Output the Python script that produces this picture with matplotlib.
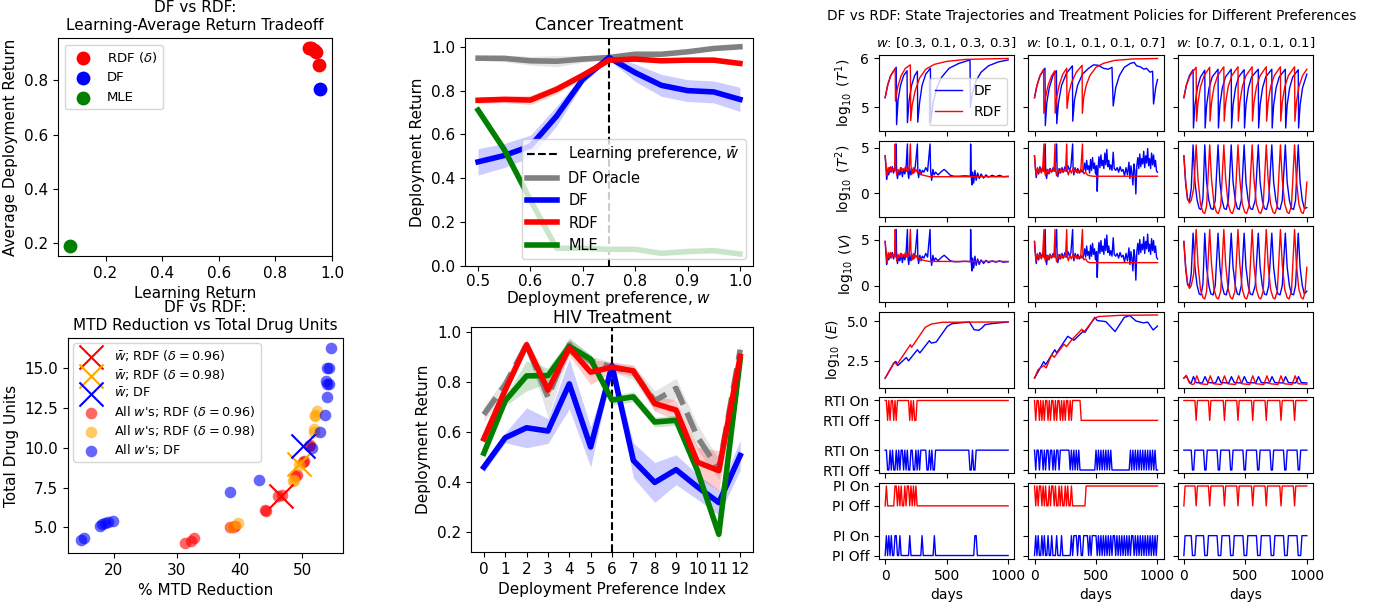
import matplotlib.pyplot as plt
import numpy as np

# ---------------- left column: scatter summaries ----------------
lr_rdf = [0.917, 0.925, 0.935, 0.943, 0.953]
avg_rdf = [0.918, 0.920, 0.912, 0.906, 0.857]
lr_df = [0.956]
avg_df = [0.769]
lr_mle = [0.076]
avg_mle = [0.188]

mtd_df = [14.7, 15.2, 17.8, 18.2, 18.6, 19.0, 19.8, 38.5, 43.1, 51.5, 52.8, 53.7,
          54.0, 53.9, 54.2, 53.8, 54.0, 54.2, 54.5]
units_df = [4.2, 4.3, 5.1, 5.2, 5.3, 5.35, 5.4, 7.2, 8.0, 10.0, 11.0, 12.1,
            13.2, 14.0, 14.05, 14.2, 15.0, 15.05, 16.3]
mtd_rdf96 = [31.3, 32.3, 32.7, 38.5, 39.0, 39.3, 44.0, 44.2, 46.2, 46.8, 48.9, 49.2,
             50.1, 50.3, 51.2, 51.0]
units_rdf96 = [4.0, 4.15, 4.3, 5.0, 5.05, 5.1, 6.1, 6.05, 7.0, 7.05, 8.2, 8.3,
               9.1, 9.2, 10.2, 10.1]
mtd_rdf98 = [38.8, 39.7, 48.5, 48.7, 49.5, 51.8, 51.9, 52.1, 52.3, 52.1]
units_rdf98 = [5.0, 5.3, 7.9, 8.0, 8.9, 11.0, 11.2, 12.1, 12.3, 12.0]
wbar_mtd = {'rdf96': 46.6, 'rdf98': 49.5, 'df': 50.2}
wbar_units = {'rdf96': 7.0, 'rdf98': 9.0, 'df': 10.1}

# ---------------- middle column: return curves ----------------
w_pref = [0.5, 0.55, 0.6, 0.65, 0.7, 0.75, 0.8, 0.85, 0.9, 0.95, 1.0]
ca_oracle = [0.948, 0.947, 0.936, 0.934, 0.944, 0.951, 0.966, 0.966, 0.977, 0.992, 1.0]
ca_oracle_sd = [0.01, 0.015, 0.02, 0.025, 0.015, 0.01, 0.01, 0.01, 0.008, 0.008, 0.005]
ca_df = [0.475, 0.504, 0.547, 0.684, 0.852, 0.951, 0.882, 0.824, 0.800, 0.794, 0.760]
ca_df_sd = [0.06, 0.055, 0.05, 0.045, 0.02, 0.01, 0.04, 0.05, 0.05, 0.05, 0.055]
ca_rdf = [0.756, 0.760, 0.757, 0.806, 0.870, 0.939, 0.944, 0.936, 0.939, 0.939, 0.924]
ca_rdf_sd = [0.015, 0.015, 0.02, 0.02, 0.015, 0.01, 0.01, 0.008, 0.008, 0.01, 0.01]
ca_mle = [0.711, 0.531, 0.30, 0.081, 0.081, 0.076, 0.076, 0.058, 0.066, 0.070, 0.055]
ca_mle_sd = [0.01, 0.02, 0.02, 0.01, 0.01, 0.01, 0.01, 0.01, 0.01, 0.01, 0.01]

hiv_idx = list(range(13))
hiv_oracle = [0.67, 0.79, 0.95, 0.74, 0.95, 0.885, 0.86, 0.84, 0.725, 0.775, 0.58, 0.45, 0.93]
hiv_oracle_sd = [0.03, 0.03, 0.02, 0.08, 0.03, 0.02, 0.02, 0.03, 0.04, 0.04, 0.05, 0.04, 0.02]
hiv_df = [0.459, 0.577, 0.617, 0.604, 0.793, 0.54, 0.866, 0.486, 0.398, 0.449, 0.38, 0.317, 0.506]
hiv_df_sd = [0.02, 0.02, 0.08, 0.05, 0.1, 0.08, 0.015, 0.07, 0.08, 0.06, 0.05, 0.05, 0.06]
hiv_rdf = [0.573, 0.768, 0.95, 0.768, 0.937, 0.84, 0.86, 0.845, 0.714, 0.688, 0.479, 0.445, 0.903]
hiv_rdf_sd = [0.02, 0.02, 0.02, 0.03, 0.03, 0.05, 0.02, 0.02, 0.03, 0.04, 0.06, 0.08, 0.02]
hiv_mle = [0.515, 0.725, 0.825, 0.826, 0.943, 0.892, 0.728, 0.741, 0.64, 0.647, 0.445, 0.19, 0.89]
hiv_mle_sd = [0.02, 0.02, 0.06, 0.03, 0.03, 0.02, 0.02, 0.02, 0.02, 0.02, 0.03, 0.03, 0.06]

# ---------------- right block: trajectories (day, value) ----------------
col_titles = ['[0.3, 0.1, 0.3, 0.3]', '[0.1, 0.1, 0.1, 0.7]', '[0.7, 0.1, 0.1, 0.1]']

c1_t1_df = [(0,5.2),(20,5.45),(45,5.65),(90,5.82),(93,4.65),(105,5.15),(125,5.45),(150,5.65),(178,5.75),
            (181,4.69),(195,5.15),(215,5.45),(240,5.65),(262,5.74),(265,4.7),(280,5.1),(300,5.45),(330,5.68),
            (368,5.8),(371,4.7),(390,5.1),(420,5.4),(460,5.62),(520,5.8),(600,5.9),(690,5.97),(693,5.0),
            (710,5.3),(740,5.55),(780,5.72),(840,5.85),(920,5.93),(1000,5.97)]
c1_t1_rdf = [(0,5.2),(20,5.45),(45,5.65),(82,5.8),(84,5.13),(100,5.4),(130,5.65),(165,5.8),(205,5.87),
             (208,4.73),(220,5.05),(245,5.35),(280,5.6),(330,5.78),(400,5.88),(500,5.94),(650,5.98),
             (800,5.99),(1000,6.0)]
c1_t2_df = [(0,4.1),(8,2.5),(12,1.5),(20,2.6),(28,2.0),(38,2.8),(48,2.3),(58,2.9),(68,2.2),(78,2.7),(90,5.4),
            (93,2.5),(100,1.6),(110,2.4),(120,2.0),(130,2.8),(140,1.8),(150,2.6),(160,2.1),(170,2.8),(181,5.4),
            (185,2.3),(192,1.6),(200,2.7),(210,2.0),(220,2.6),(232,2.2),(245,2.9),(262,5.4),(266,2.3),(272,1.7),
            (282,2.6),(292,2.0),(302,2.5),(315,2.3),(330,2.8),(345,2.4),(365,5.4),(370,2.4),(378,1.4),(388,2.6),
            (398,2.0),(410,2.3),(430,2.0),(460,2.4),(480,2.6),(505,2.3),(530,1.95),(560,1.85),(600,1.85),
            (650,1.9),(693,1.85),(695,5.4),(700,1.9),(705,0.9),(712,2.3),(720,1.1),(730,2.5),(740,1.4),
            (752,2.2),(765,1.6),(780,2.1),(800,1.65),(820,2.0),(840,1.75),(870,1.95),(900,1.8),(930,1.95),
            (960,1.8),(1000,1.85)]
c1_t2_rdf = [(0,4.1),(10,2.6),(15,1.9),(25,2.8),(35,2.2),(45,2.9),(55,2.4),(65,2.7),(78,2.5),(82,5.4),(86,2.6),
             (95,2.0),(105,2.6),(115,2.3),(125,2.8),(135,2.4),(145,2.7),(155,2.5),(165,2.9),(175,2.4),(185,2.8),
             (195,2.5),(205,5.4),(210,3.0),(220,2.1),(230,2.8),(240,2.3),(250,2.6),(265,2.2),(280,2.3),(300,2.0),
             (330,1.9),(360,1.8),(1000,1.8)]
c1_v_df = [(0,4.8),(8,3.2),(12,2.3),(20,3.3),(28,2.8),(38,3.5),(48,3.0),(58,3.6),(68,2.9),(78,3.4),(90,6.1),
           (93,3.2),(100,2.4),(110,3.1),(120,2.7),(130,3.5),(140,2.5),(150,3.3),(160,2.8),(170,3.5),(181,6.1),
           (185,3.0),(192,2.3),(200,3.4),(210,2.7),(220,3.3),(232,2.9),(245,3.6),(262,6.1),(266,3.0),(272,2.4),
           (282,3.3),(292,2.7),(302,3.2),(315,3.0),(330,3.5),(345,3.1),(365,6.1),(370,3.1),(378,2.2),(388,3.3),
           (398,2.7),(410,3.0),(430,2.7),(460,3.1),(480,3.3),(505,3.0),(530,2.7),(560,2.6),(600,2.6),
           (650,2.65),(693,2.6),(695,6.1),(700,2.6),(705,1.6),(712,3.0),(720,1.9),(730,3.2),(740,2.2),
           (752,2.9),(765,2.3),(780,2.8),(800,2.4),(820,2.75),(840,2.5),(870,2.7),(900,2.55),(930,2.7),
           (960,2.55),(1000,2.6)]
c1_v_rdf = [(0,4.8),(10,3.3),(15,2.5),(25,3.6),(35,2.9),(45,3.6),(55,3.1),(65,3.4),(78,3.2),(82,6.1),(86,3.3),
            (95,2.7),(105,3.4),(115,3.0),(125,3.5),(135,3.1),(145,3.4),(155,3.2),(165,3.6),(175,3.1),(185,3.5),
            (195,3.2),(205,6.1),(210,3.7),(220,2.8),(230,3.5),(240,3.0),(250,3.3),(265,2.9),(280,3.0),(300,2.8),
            (330,2.7),(360,2.63),(1000,2.63)]
c1_e_df = [(0,1.4),(69,2.35),(87,2.46),(103,2.2),(172,2.71),(190,2.5),(262,3.2),(282,3.0),(359,3.77),
           (377,3.62),(415,3.69),(505,4.68),(544,4.85),(685,4.96),(723,4.47),(762,4.43),(787,4.58),
           (813,4.79),(864,4.85),(1000,4.96)]
c1_e_rdf = [(0,1.4),(77,2.42),(95,2.25),(205,3.52),(215,3.35),(326,4.62),(377,4.83),(467,4.94),(1000,4.96)]

c2_t1_df = [(0,5.2),(20,5.45),(45,5.65),(85,5.8),(88,4.63),(100,5.1),(120,5.4),(150,5.65),(178,5.75),
            (181,4.67),(195,5.1),(220,5.45),(260,5.7),(308,5.85),(311,4.72),(325,5.15),(350,5.45),(390,5.68),
            (440,5.8),(480,5.87),(520,5.86),(560,5.8),(600,5.78),(630,5.82),(640,5.03),(660,5.4),(690,5.65),
            (730,5.82),(780,5.9),(810,5.92),(830,5.85),(860,5.83),(890,5.78),(910,5.8),(940,5.72),(960,5.74),
            (968,5.07),(985,5.4),(1000,5.57)]
c2_t1_rdf = [(0,5.2),(20,5.45),(45,5.65),(74,5.78),(76,4.88),(90,5.2),(110,5.45),(140,5.65),(166,5.75),
             (168,4.88),(180,5.2),(200,5.45),(230,5.68),(262,5.8),(264,4.98),(280,5.3),(300,5.5),(340,5.72),
             (387,5.86),(389,4.88),(400,5.2),(420,5.45),(450,5.65),(500,5.82),(560,5.9),(650,5.96),
             (800,5.99),(1000,6.0)]
c2_t2_df = [(0,4.1),(8,2.6),(14,1.7),(24,2.7),(34,2.1),(44,2.9),(54,2.3),(64,2.8),(75,2.4),(87,5.4),(91,2.5),
            (98,1.6),(108,2.6),(118,2.1),(128,2.7),(140,2.3),(152,2.8),(165,2.4),(180,5.4),(184,2.4),(190,1.8),
            (200,2.7),(212,2.2),(224,2.8),(236,2.3),(248,2.9),(260,2.4),(272,3.0),(284,2.5),(296,2.9),(310,5.4),
            (314,2.6),(320,2.0),(330,2.8),(340,2.3),(352,2.7),(364,2.2),(376,2.6),(388,2.3),(400,2.6),(408,3.3),
            (416,2.4),(424,3.6),(432,2.6),(440,3.0),(448,2.2),(456,3.7),(464,2.5),(472,3.9),(480,2.7),(488,3.3),
            (496,2.1),(504,3.0),(510,0.2),(516,2.6),(524,4.0),(532,2.8),(540,4.2),(548,3.0),(556,3.6),(564,2.7),
            (572,4.4),(580,3.1),(588,4.8),(596,2.9),(604,3.6),(612,2.6),(620,3.1),(630,2.5),(640,4.5),(648,2.7),
            (660,2.5),(672,2.8),(684,2.3),(696,2.9),(708,2.4),(720,2.6),(732,1.9),(744,2.8),(756,2.0),(768,3.4),
            (776,1.6),(784,3.0),(792,2.2),(800,0.9),(808,3.2),(816,2.5),(824,-0.1),(832,3.0),(840,3.9),(848,2.7),
            (856,4.3),(864,2.9),(872,3.8),(880,3.2),(888,4.6),(896,2.8),(904,4.1),(912,3.3),(920,4.9),(928,3.0),
            (936,3.8),(944,2.7),(952,4.4),(960,3.1),(968,4.2),(976,2.9),(984,3.6),(992,2.4),(1000,2.3)]
c2_t2_rdf = [(0,4.1),(8,2.6),(14,2.0),(24,2.8),(34,2.3),(44,2.7),(56,2.2),(66,2.6),(77,5.4),(81,2.4),(90,1.9),
             (100,2.6),(112,2.2),(124,2.7),(136,2.3),(148,2.6),(158,2.4),(167,5.4),(171,2.5),(180,1.9),(192,2.6),
             (204,2.2),(216,2.7),(228,2.3),(240,2.6),(252,2.4),(262,5.4),(266,2.5),(275,2.0),(288,2.6),(300,2.2),
             (312,2.7),(324,2.3),(336,2.6),(348,2.2),(360,2.5),(375,2.3),(390,5.4),(394,2.5),(402,2.1),(415,2.3),
             (430,2.0),(450,1.9),(480,1.85),(1000,1.85)]
c2_v_df = [(0,4.8),(8,3.3),(14,2.4),(24,3.4),(34,2.8),(44,3.6),(54,3.0),(64,3.5),(75,3.1),(87,6.1),(91,3.2),
           (98,2.3),(108,3.3),(118,2.8),(128,3.4),(140,3.0),(152,3.5),(165,3.1),(180,6.1),(184,3.1),(190,2.5),
           (200,3.4),(212,2.9),(224,3.5),(236,3.0),(248,3.6),(260,3.1),(272,3.7),(284,3.2),(296,3.6),(310,6.1),
           (314,3.3),(320,2.7),(330,3.5),(340,3.0),(352,3.4),(364,2.9),(376,3.3),(388,3.0),(400,3.3),(408,4.0),
           (416,3.1),(424,4.3),(432,3.3),(440,3.7),(448,2.9),(456,4.4),(464,3.2),(472,4.6),(480,3.4),(488,4.0),
           (496,2.8),(504,3.7),(510,0.9),(516,3.3),(524,4.7),(532,3.5),(540,4.9),(548,3.7),(556,4.3),(564,3.4),
           (572,5.1),(580,3.8),(588,5.5),(596,3.6),(604,4.3),(612,3.3),(620,3.8),(630,3.2),(640,5.2),(648,3.4),
           (660,3.2),(672,3.5),(684,3.0),(696,3.6),(708,3.1),(720,3.3),(732,2.6),(744,3.5),(756,2.7),(768,4.1),
           (776,2.3),(784,3.7),(792,2.9),(800,1.6),(808,3.9),(816,3.2),(824,0.6),(832,3.7),(840,4.6),(848,3.4),
           (856,5.0),(864,3.6),(872,4.5),(880,3.9),(888,5.3),(896,3.5),(904,4.8),(912,4.0),(920,5.6),(928,3.7),
           (936,4.5),(944,3.4),(952,5.1),(960,3.8),(968,4.9),(976,3.6),(984,4.3),(992,3.1),(1000,2.9)]
c2_v_rdf = [(0,4.8),(8,3.3),(14,2.7),(24,3.5),(34,3.0),(44,3.4),(56,2.9),(66,3.3),(77,6.1),(81,3.1),(90,2.6),
            (100,3.3),(112,2.9),(124,3.4),(136,3.0),(148,3.3),(158,3.1),(167,6.1),(171,3.2),(180,2.6),(192,3.3),
            (204,2.9),(216,3.4),(228,3.0),(240,3.3),(252,3.1),(262,6.1),(266,3.2),(275,2.7),(288,3.3),(300,2.9),
            (312,3.4),(324,3.0),(336,3.3),(348,2.9),(360,3.2),(375,3.0),(390,6.1),(394,3.2),(402,2.8),(415,2.9),
            (430,2.6),(450,2.5),(480,2.5),(1000,2.5)]
c2_e_df = [(0,1.4),(75,2.45),(90,2.25),(165,3.2),(180,3.0),(270,4.05),(320,3.8),(400,4.4),(410,4.3),(490,5.25),
           (510,5.05),(580,4.98),(655,4.35),(730,5.25),(775,5.36),(825,5.02),(885,4.9),(920,4.95),(965,4.45),
           (1000,4.7)]
c2_e_rdf = [(0,1.4),(30,1.95),(75,2.2),(95,2.05),(140,2.9),(160,2.72),(240,3.55),(260,3.4),(300,3.8),
            (385,4.5),(400,4.3),(490,5.2),(520,5.3),(700,5.38),(1000,5.4)]

c3_t1_df = [(0,5.2),(20,5.45),(45,5.65),(75,5.77),(78,4.58),(90,5.05),(110,5.4),(135,5.62),(170,5.76),
            (173,4.58),(185,5.05),(205,5.4),(230,5.62),(278,5.78),(281,4.58),(293,5.05),(313,5.4),(338,5.62),
            (385,5.78),(388,4.58),(400,5.05),(420,5.4),(445,5.62),(490,5.77),(493,4.58),(505,5.05),(525,5.4),
            (550,5.62),(605,5.78),(608,4.58),(620,5.05),(640,5.4),(665,5.62),(715,5.78),(718,4.58),(730,5.05),
            (750,5.4),(775,5.62),(825,5.78),(828,4.58),(840,5.05),(860,5.4),(885,5.62),(930,5.77),(933,4.58),
            (945,5.05),(965,5.4),(1000,5.68)]
c3_t1_rdf = [(0,5.2),(20,5.45),(50,5.65),(100,5.82),(103,4.72),(115,5.1),(135,5.42),(165,5.65),(210,5.82),
             (213,4.72),(225,5.1),(245,5.42),(275,5.65),(325,5.83),(328,4.72),(340,5.1),(360,5.42),(390,5.65),
             (440,5.83),(443,4.72),(455,5.1),(475,5.42),(505,5.65),(555,5.83),(558,4.72),(570,5.1),(590,5.42),
             (620,5.65),(670,5.83),(673,4.72),(685,5.1),(705,5.42),(735,5.65),(785,5.83),(788,4.72),(800,5.1),
             (820,5.42),(850,5.65),(900,5.83),(903,4.72),(915,5.1),(935,5.42),(965,5.65),(1000,5.78)]
c3_t2_df = [(0,4.1),(15,1.0),(30,-0.7),(45,-0.9),(60,0.5),(75,5.3),(90,1.2),(108,-0.8),(125,-1.7),(140,-1.8),
            (155,-0.6),(170,5.3),(185,1.2),(203,-0.8),(220,-1.7),(238,-1.8),(255,-0.8),(278,5.3),(293,1.2),
            (311,-0.8),(328,-1.7),(345,-1.8),(362,-0.8),(385,5.3),(400,1.2),(418,-0.8),(435,-1.7),(450,-1.8),
            (467,-0.8),(490,5.3),(505,1.2),(523,-0.8),(540,-1.7),(558,-1.8),(580,-0.8),(605,5.3),(620,1.2),
            (638,-0.8),(655,-1.7),(672,-1.8),(690,-0.8),(715,5.3),(730,1.2),(748,-0.8),(765,-1.7),(782,-1.8),
            (800,-0.8),(825,5.3),(840,1.2),(858,-0.8),(875,-1.7),(892,-1.8),(908,-0.8),(930,5.3),(945,1.2),
            (963,-0.8),(980,-1.7),(1000,-1.6)]
c3_t2_rdf = [(0,4.1),(15,1.2),(30,-0.6),(45,-1.1),(60,-0.8),(80,0.5),(100,5.3),(115,1.5),(135,-1.2),(155,-2.1),
             (170,-2.25),(185,-1.4),(210,5.3),(225,1.5),(245,-1.2),(265,-2.1),(280,-2.25),(300,-1.4),(325,5.3),
             (340,1.5),(360,-1.2),(380,-2.1),(395,-2.25),(415,-1.4),(440,5.3),(455,1.5),(475,-1.2),(495,-2.1),
             (510,-2.25),(530,-1.4),(555,5.3),(570,1.5),(590,-1.2),(610,-2.1),(625,-2.25),(645,-1.4),(670,5.3),
             (685,1.5),(705,-1.2),(725,-2.1),(740,-2.25),(760,-1.4),(785,5.3),(800,1.5),(820,-1.2),(840,-2.1),
             (855,-2.25),(875,-1.4),(900,5.3),(915,1.5),(935,-1.2),(955,-2.1),(970,-2.25),(985,-1.5),(1000,1.2)]
c3_v_df = [(0,4.8),(15,1.8),(30,0.1),(45,-0.1),(60,1.3),(75,5.7),(90,2.0),(108,0.0),(125,-0.9),(140,-1.0),
           (155,0.2),(170,5.7),(185,2.0),(203,0.0),(220,-0.9),(238,-1.0),(255,0.0),(278,5.7),(293,2.0),(311,0.0),
           (328,-0.9),(345,-1.0),(362,0.0),(385,5.7),(400,2.0),(418,0.0),(435,-0.9),(450,-1.0),(467,0.0),
           (490,5.7),(505,2.0),(523,0.0),(540,-0.9),(558,-1.0),(580,0.0),(605,5.7),(620,2.0),(638,0.0),
           (655,-0.9),(672,-1.0),(690,0.0),(715,5.7),(730,2.0),(748,0.0),(765,-0.9),(782,-1.0),(800,0.0),
           (825,5.7),(840,2.0),(858,0.0),(875,-0.9),(892,-1.0),(908,0.0),(930,5.7),(945,2.0),(963,0.0),
           (980,-0.9),(1000,-0.6)]
c3_v_rdf = [(0,4.8),(15,2.0),(30,0.3),(45,-0.3),(60,0.0),(80,1.3),(100,6.1),(115,2.3),(135,-0.4),(155,-1.3),
            (170,-1.45),(185,-0.6),(210,6.1),(225,2.3),(245,-0.4),(265,-1.3),(280,-1.45),(300,-0.6),(325,6.1),
            (340,2.3),(360,-0.4),(380,-1.3),(395,-1.45),(415,-0.6),(440,6.1),(455,2.3),(475,-0.4),(495,-1.3),
            (510,-1.45),(530,-0.6),(555,6.1),(570,2.3),(590,-0.4),(610,-1.3),(625,-1.45),(645,-0.6),(670,6.1),
            (685,2.3),(705,-0.4),(725,-1.3),(740,-1.45),(760,-0.6),(785,6.1),(800,2.3),(820,-0.4),(840,-1.3),
            (855,-1.45),(875,-0.6),(900,6.1),(915,2.3),(935,-0.4),(955,-1.3),(970,-1.45),(985,-0.7),(1000,2.0)]
c3_e_df = [(0,1.4),(20,1.55),(45,1.15),(60,1.1),(78,1.5),(100,1.12),(150,1.1),(172,1.5),(195,1.12),(258,1.1),
           (280,1.5),(302,1.12),(365,1.1),(387,1.5),(410,1.12),(470,1.1),(492,1.5),(515,1.12),(585,1.1),
           (607,1.5),(630,1.12),(695,1.1),(717,1.5),(740,1.12),(805,1.1),(827,1.5),(850,1.12),(910,1.1),
           (932,1.5),(955,1.12),(1000,1.1)]
c3_e_rdf = [(0,1.4),(20,1.58),(45,1.1),(70,1.0),(85,1.05),(105,1.55),(130,1.05),(190,1.0),(215,1.55),
            (240,1.05),(305,1.0),(330,1.55),(355,1.05),(420,1.0),(445,1.55),(470,1.05),(535,1.0),(560,1.55),
            (585,1.05),(650,1.0),(675,1.55),(700,1.05),(765,1.0),(790,1.55),(815,1.05),(880,1.0),(905,1.55),
            (930,1.05),(1000,1.02)]

# policies: one character per 10-day step (day 0 .. 1000), 1 = on
act_days = np.arange(0, 1001, 10)
c1_rti_df = ("1100101001" "0101101010" "0110010101" "1111001010" "0111111111"
             "1111111111" "1111111110" "0100111111" "1111111111" "1111111111" "1")
c1_rti_rdf = ("1101011010" "1111111111" "0101001111" "1111111111" "1111111111"
              "1111111111" "1111111111" "1111111111" "1111111111" "1111111111" "1")
c1_pi_df = ("0101010011" "0010000000" "1000000000" "1000000000" "1000000000"
            "0000000000" "0000000000" "0001100000" "0000000000" "0000000000" "0")
c1_pi_rdf = ("0100000011" "0101001011" "0101010000" "0000000000" "0000000000"
             "0000000000" "0000000000" "0000000000" "0000000000" "0000000000" "0")
c2_rti_df = ("1011011010" "1101101011" "0111111110" "1010101000" "0000000000"
             "1010101010" "1010000000" "0000000010" "1010101010" "1010101010" "0")
c2_rti_rdf = ("1011010101" "1010110101" "1010101101" "0111111100" "0000000000"
              "0000000000" "0000000000" "0000000000" "0000000000" "0000000000" "0")
c2_pi_df = ("0101001010" "0100100010" "0010000000" "1011101100" "1111010111"
            "1010101010" "1010110101" "0101010101" "1010101010" "1010101010" "1")
c2_pi_rdf = ("1010110101" "0010110100" "1010010100" "1000000000" "0011111111"
             "1111111111" "1111111111" "1111111111" "1111111111" "1111111111" "1")
c3_rti_df = ("1111111001" "1111111001" "1111111100" "1111111100" "1111111110"
             "0111111111" "0011111111" "1001111111" "1100111111" "1110011111" "1")
c3_rti_rdf = ("1111111111" "0111111111" "1011111111" "1110111111" "1111011111"
              "1111110111" "1111111011" "1111111110" "1111111111" "0111111111" "1")
c3_pi_df = ("0111111000" "1111111000" "1111111100" "0111111100" "0111111110"
            "0011111111" "0001111111" "1000111111" "1100011111" "1110001111" "1")
c3_pi_rdf = ("0111111111" "0111111111" "1011111111" "1110111111" "1111011111"
             "1111110111" "1111111011" "1111111110" "1111111111" "0111111111" "1")

# ================= figure =================
fig = plt.figure(figsize=(13.8, 6.03), dpi=100)
W, H = 1380, 603


def box(l, t, r, b):
    return [l / W, 1 - b / H, (r - l) / W, (b - t) / H]


FS = 11

# --- top left
ax = fig.add_axes(box(58, 38, 332, 256))
ax.scatter(lr_rdf, avg_rdf, s=80, color='red', label=r'RDF ($\delta$)')
ax.scatter(lr_df, avg_df, s=80, color='blue', label='DF')
ax.scatter(lr_mle, avg_mle, s=80, color='green', label='MLE')
ax.set_title('DF vs RDF:\nLearning-Average Return Tradeoff', fontsize=FS)
ax.set_xlabel('Learning Return', fontsize=FS)
ax.set_ylabel('Average Deployment Return', fontsize=FS)
ax.set_xticks([0.2, 0.4, 0.6, 0.8, 1.0])
ax.tick_params(labelsize=FS)
ax.legend(loc='upper left', fontsize=9.5)

# --- bottom left
ax = fig.add_axes(box(68, 338, 343, 553))
ax.scatter([wbar_mtd['rdf96']], [wbar_units['rdf96']], marker='x', s=300, color='red',
           linewidths=1.5, label=r'$\bar{w}$; RDF ($\delta=0.96$)', zorder=3)
ax.scatter([wbar_mtd['rdf98']], [wbar_units['rdf98']], marker='x', s=300, color='orange',
           linewidths=1.5, label=r'$\bar{w}$; RDF ($\delta=0.98$)', zorder=3)
ax.scatter([wbar_mtd['df']], [wbar_units['df']], marker='x', s=300, color='blue',
           linewidths=1.5, label=r'$\bar{w}$; DF', zorder=3)
ax.scatter(mtd_rdf96, units_rdf96, s=70, color='red', alpha=0.6, linewidths=0,
           label=r"All $w$'s; RDF ($\delta=0.96$)")
ax.scatter(mtd_rdf98, units_rdf98, s=70, color='orange', alpha=0.6, linewidths=0,
           label=r"All $w$'s; RDF ($\delta=0.98$)")
ax.scatter(mtd_df, units_df, s=70, color='blue', alpha=0.6, linewidths=0,
           label=r"All $w$'s; DF")
ax.set_title('DF vs RDF:\nMTD Reduction vs Total Drug Units', fontsize=FS)
ax.set_xlabel('% MTD Reduction', fontsize=FS)
ax.set_ylabel('Total Drug Units', fontsize=FS)
ax.set_yticks([5.0, 7.5, 10.0, 12.5, 15.0])
ax.tick_params(labelsize=FS)
ax.legend(loc='upper left', fontsize=9.2, labelspacing=0.3, borderaxespad=0.4)

# --- cancer
ax = fig.add_axes(box(465, 38, 753, 266))
ax.axvline(0.75, color='black', ls='--', lw=1.5, label=r'Learning preference, $\bar{w}$')
for y, sd, c, lab in [(ca_oracle, ca_oracle_sd, 'grey', 'DF Oracle'), (ca_df, ca_df_sd, 'blue', 'DF'),
                      (ca_rdf, ca_rdf_sd, 'red', 'RDF'), (ca_mle, ca_mle_sd, 'green', 'MLE')]:
    y = np.array(y)
    sd = np.array(sd)
    ax.plot(w_pref, y, color=c, lw=4, label=lab)
    ax.fill_between(w_pref, y - sd, y + sd, color=c, alpha=0.2, lw=0)
ax.set_ylim(0, 1.04)
ax.set_title('Cancer Treatment', fontsize=12)
ax.set_xlabel('Deployment preference, $w$', fontsize=FS, labelpad=0)
ax.set_ylabel('Deployment Return', fontsize=FS)
ax.tick_params(labelsize=FS)
ax.tick_params(axis='x', pad=2)
ax.legend(loc='lower right', fontsize=10.5)

# --- hiv
ax = fig.add_axes(box(471, 327, 753, 552))
ax.axvline(6, color='black', ls='--', lw=1.5)
for y, sd, c, ls in [(hiv_oracle, hiv_oracle_sd, 'grey', '--'), (hiv_df, hiv_df_sd, 'blue', '-'),
                     (hiv_mle, hiv_mle_sd, 'green', '-'), (hiv_rdf, hiv_rdf_sd, 'red', '-')]:
    y = np.array(y)
    sd = np.array(sd)
    ax.plot(hiv_idx, y, color=c, lw=4, ls=ls)
    ax.fill_between(hiv_idx, y - sd, y + sd, color=c, alpha=0.2, lw=0)
ax.set_xticks(hiv_idx)
ax.set_title('HIV Treatment', fontsize=12, pad=3)
ax.set_xlabel('Deployment Preference Index', fontsize=FS)
ax.set_ylabel('Deployment Return', fontsize=FS)
ax.tick_params(labelsize=FS)

# --- right block
fig.text(1092 / W, 1 - 16 / H,
         'DF vs RDF: State Trajectories and Treatment Policies for Different Preferences',
         ha='center', va='center', fontsize=9.8)
gs = fig.add_gridspec(6, 3, left=879 / W, right=1313 / W, top=1 - 55 / H, bottom=1 - 559 / H,
                      wspace=0.104, hspace=0.118)
axs = gs.subplots(sharex=True, sharey='row')

states = [
    [(c1_t1_df, c1_t1_rdf), (c2_t1_df, c2_t1_rdf), (c3_t1_df, c3_t1_rdf)],
    [(c1_t2_df, c1_t2_rdf), (c2_t2_df, c2_t2_rdf), (c3_t2_df, c3_t2_rdf)],
    [(c1_v_df, c1_v_rdf), (c2_v_df, c2_v_rdf), (c3_v_df, c3_v_rdf)],
    [(c1_e_df, c1_e_rdf), (c2_e_df, c2_e_rdf), (c3_e_df, c3_e_rdf)],
]
ylabels = [r'$\log_{10}$ $(T^1)$', r'$\log_{10}$ $(T^2)$', r'$\log_{10}$ $(V)$', r'$\log_{10}$ $(E)$']
yticks = [[5, 6], [0, 5], [0, 5], [2.5, 5.0]]
for r in range(4):
    for c in range(3):
        a = axs[r, c]
        df_pts, rdf_pts = states[r][c]
        d, v = np.array(df_pts).T
        a.plot(d, v, color='blue', lw=1, label='DF')
        d, v = np.array(rdf_pts).T
        a.plot(d, v, color='red', lw=1, label='RDF')
        a.set_yticks(yticks[r])
    axs[r, 0].set_ylabel(ylabels[r], fontsize=10)

actions = [
    [(c1_rti_df, c1_rti_rdf), (c2_rti_df, c2_rti_rdf), (c3_rti_df, c3_rti_rdf)],
    [(c1_pi_df, c1_pi_rdf), (c2_pi_df, c2_pi_rdf), (c3_pi_df, c3_pi_rdf)],
]
drug = ['RTI', 'PI']
for k in range(2):
    for c in range(3):
        a = axs[4 + k, c]
        s_df, s_rdf = actions[k][c]
        a.plot(act_days, [int(ch) for ch in s_df], color='blue', lw=1)
        a.plot(act_days, [int(ch) + 2.5 for ch in s_rdf], color='red', lw=1)
        a.set_yticks([0, 1, 2.5, 3.5])
        a.set_yticklabels([drug[k] + ' Off', drug[k] + ' On', drug[k] + ' Off', drug[k] + ' On'])

for c in range(3):
    axs[0, c].set_title(r'$w$: ' + col_titles[c], fontsize=9.5)
    axs[5, c].set_xlabel('days', fontsize=10)
    axs[5, c].set_xticks([0, 500, 1000])
for a in axs.flat:
    a.tick_params(labelsize=10)
axs[0, 0].legend(loc='lower right', fontsize=10)

fig.savefig('out.png', dpi=100)
